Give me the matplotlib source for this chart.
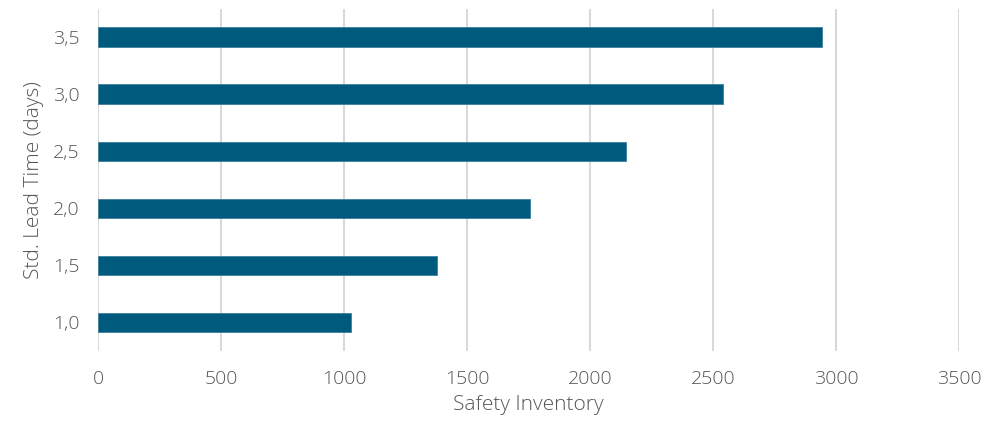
import matplotlib
matplotlib.use("Agg")
import matplotlib.pyplot as plt

categories = ["1,0", "1,5", "2,0", "2,5", "3,0", "3,5"]
values = [1027, 1377, 1755, 2146, 2542, 2942]
x_ticks = [0, 500, 1000, 1500, 2000, 2500, 3000, 3500]

plt.rcParams['font.family'] = ['Open Sans', 'DejaVu Sans']
text_color = '#555555'

fig = plt.figure(figsize=(10.02, 4.22), dpi=100)
W, H = 1002, 422
ax = fig.add_axes([98 / W, (H - 351) / H, (959 - 98) / W, (351 - 8.5) / H])

ypos = list(range(len(categories)))
ax.barh(ypos, values, height=0.34, color='#005A7D', edgecolor='#3F7F9C', linewidth=0.6, zorder=3)

ax.set_xlim(0, 3500)
ax.set_ylim(-0.5, len(categories) - 0.5)
ax.set_xticks(x_ticks)
ax.set_xticklabels([str(t) for t in x_ticks])
ax.set_yticks(ypos)
ax.set_yticklabels(categories)

ax.grid(axis='x', color='#D9D9D9', linewidth=1.5, zorder=0)
ax.grid(axis='y', visible=False)
for s in ['top', 'right', 'bottom', 'left']:
    ax.spines[s].set_visible(False)

ax.tick_params(axis='both', length=0, labelsize=14, labelcolor=text_color)
ax.tick_params(axis='x', pad=14)
ax.tick_params(axis='y', pad=13)
for lbl in ax.get_xticklabels() + ax.get_yticklabels():
    lbl.set_fontweight('light')

ax.set_xlabel('Safety Inventory', fontsize=15, color=text_color, labelpad=5, fontweight='light')
ax.set_ylabel('Std. Lead Time (days)', fontsize=15, color=text_color, labelpad=7, fontweight='light')

fig.savefig('out.png', dpi=100)
